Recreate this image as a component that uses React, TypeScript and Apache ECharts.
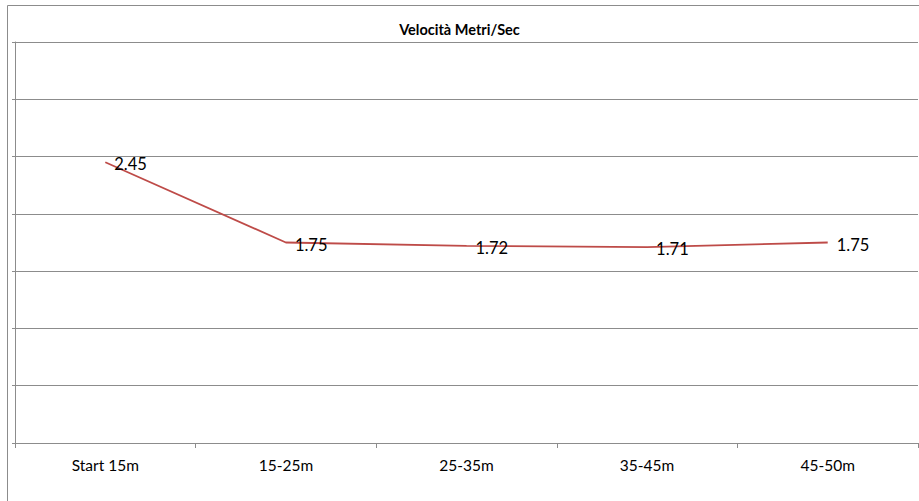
import React, { useEffect, useRef } from "react";
import * as echarts from "echarts";

const categories = ["Start 15m", "15-25m", "25-35m", "35-45m", "45-50m"];
const values = [2.45, 1.75, 1.72, 1.71, 1.75];
const titleText = "Velocità Metri/Sec";

export default function App() {
  const ref = useRef<HTMLDivElement>(null);
  useEffect(() => {
    const chart = echarts.init(ref.current!, null, { renderer: "svg" });
    chart.setOption({
      animation: false,
      backgroundColor: "#ffffff",
      textStyle: { fontFamily: "Lato" },
      title: {
        text: titleText,
        left: "center",
        top: 17,
        textStyle: { fontSize: 14.5, fontWeight: "bold", color: "#000", fontFamily: "Lato" },
      },
      graphic: [
        {
          type: "rect",
          shape: { x: 7.5, y: 5.5, width: 1000, height: 1000 },
          style: { fill: "none", stroke: "#8c8c8c", lineWidth: 1 },
          silent: true,
        },
      ],
      grid: { left: 15, right: 1, top: 42, bottom: 58 },
      xAxis: {
        type: "category",
        data: categories,
        boundaryGap: true,
        axisLine: { show: true, lineStyle: { color: "#8c8c8c", width: 1 } },
        axisTick: { show: true, length: 5, lineStyle: { color: "#8c8c8c" } },
        axisLabel: { color: "#000", fontSize: 15.5, margin: 14, fontFamily: "Lato" },
        splitLine: { show: false },
      },
      yAxis: {
        type: "value",
        min: 0,
        max: 3.5,
        interval: 0.5,
        axisLine: { show: true, lineStyle: { color: "#8c8c8c", width: 1 } },
        axisTick: { show: true, length: 3, lineStyle: { color: "#8c8c8c" } },
        axisLabel: { show: false },
        splitLine: { show: true, lineStyle: { color: "#8c8c8c", width: 1 } },
      },
      series: [
        {
          type: "line",
          data: values,
          symbol: "circle",
          symbolSize: 2,
          showSymbol: true,
          itemStyle: { color: "rgba(0,0,0,0)", borderWidth: 0 },
          lineStyle: { color: "#be4b48", width: 1.8 },
          label: {
            show: true,
            position: "right",
            distance: 8,
            offset: [0, 2],
            color: "#000",
            fontSize: 16.5,
            fontFamily: "Lato",
            formatter: (p: any) => Number(p.value).toFixed(2),
          },
        },
      ],
    });
    return () => chart.dispose();
  }, []);
  return (
    <div
      ref={ref}
      style={{ position: "fixed", left: 0, top: 0, width: 919, height: 501 }}
    />
  );
}
